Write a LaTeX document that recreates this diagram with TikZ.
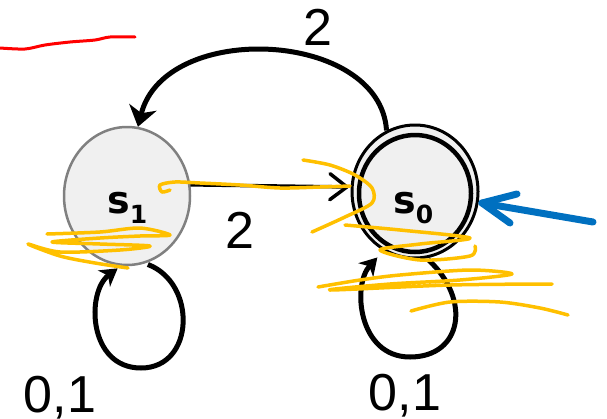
\documentclass[tikz,border=0pt]{standalone}
\usepackage{fontspec}
\setmainfont{Liberation Sans}
\newfontfamily\statefont{DejaVu Sans}
\usetikzlibrary{arrows.meta,shapes.geometric}
\definecolor{stategray}{RGB}{240,240,240}
\definecolor{ringgray}{RGB}{128,128,128}
\definecolor{penyellow}{RGB}{255,192,0}
\definecolor{penblue}{RGB}{0,112,192}
\definecolor{penred}{RGB}{255,0,0}
\tikzset{
  statenode/.style={ellipse,inner sep=0pt,fill=stategray},
  edgelab/.style={anchor=base,inner sep=0pt,font=\fontsize{52}{60}\selectfont},
  statelab/.style={anchor=base west,inner sep=0pt},
  arc edge/.style={line width=5pt,-{Stealth[length=20pt,width=28pt,inset=6pt]}},
  straight edge/.style={line width=3.5pt,-{Straight Barb[length=17pt,width=26pt,round]}},
  loop edge/.style={line width=5pt,-{Stealth[length=17pt,width=20pt,inset=5pt]}},
  yellow pen/.style={penyellow,line width=3.5pt,line cap=round,line join=round},
  blue pen/.style={penblue,line width=7pt,line cap=round,line join=round},
  red pen/.style={penred,line width=3pt,line cap=round,line join=round},
}
\newcommand{\sname}[1]{{\statefont\bfseries\fontsize{38}{40}\selectfont s}\raisebox{-10pt}{\statefont\bfseries\fontsize{25}{28}\selectfont #1}}
\begin{document}
\begin{tikzpicture}[x=1pt,y=-1pt]
\useasboundingbox (0,0) rectangle (607,418);
% states
\node (s1) [statenode,draw=ringgray,line width=2.5pt,minimum width=126pt,minimum height=138pt] at (127,196) {};
\node (s0) [statenode,draw=black,line width=3pt,minimum width=126pt,minimum height=133pt] at (415,191.5) {};
\node (s0in) [ellipse,inner sep=0pt,draw=black,line width=4.5pt,minimum width=112pt,minimum height=117pt] at (415,193.5) {};
\node (s1lab) [statelab] at (107,213) {\sname{1}};
\node (s0lab) [statelab] at (393,213) {\sname{0}};
% edges
\draw[arc edge] (s0.115) .. controls (380,30) and (165,20) .. (s1.81);
\draw[straight edge,shorten >=2pt] (s1.10) -- (s0.176);
\draw[loop edge,shorten <=3pt,shorten >=4pt] (s1.-75) .. controls (197,283) and (195,368) .. (141,368) .. controls (88,368) and (86,292) .. (s1.-95);
\draw[loop edge,shorten <=2pt,shorten >=9pt] (s0.-80) .. controls (472,300) and (462,357) .. (410,357) .. controls (358,357) and (352,285) .. (s0.-118);
% labels
\node (l20) [edgelab] at (318,45) {2};
\node (l10) [edgelab] at (240,248) {2};
\node (l11) [edgelab] at (60,412) {0,1};
\node (l00) [edgelab] at (405,410) {0,1};
% red stroke
\draw[red pen] plot[smooth] coordinates {(0,48) (25,49) (45,45) (70,42) (95,40) (110,37) (135,37)};
% blue arrow
\coordinate (bstart) at (593,222);
\coordinate (btip) at (482,203);
\draw[blue pen] (bstart) -- (btip);
\draw[blue pen] (517,194) -- (btip) -- (510,223);
% yellow scribbles
\draw[yellow pen] plot[smooth] coordinates {(170,190) (162,192) (160,185) (175,182) (200,183) (240,185) (280,188) (320,187) (350,186)};
\draw[yellow pen] plot[smooth] coordinates {(303,160) (330,165) (355,175) (372,188) (372,203) (345,217) (312,232)};
\draw[yellow pen] plot[smooth] coordinates {(47,234) (100,232) (140,228) (170,235) (140,236) (100,238) (52,242) (100,244) (150,246) (120,250) (60,252) (28,244) (60,256) (95,263) (128,268)};
\draw[yellow pen] plot[smooth] coordinates {(345,225) (400,230) (470,238) (420,244) (380,250) (420,260) (470,256) (475,246)};
\draw[yellow pen] plot[smooth] coordinates {(318,287) (360,280) (400,275) (470,270) (512,274) (460,280) (390,284) (330,290) (450,285) (552,284)};
\draw[yellow pen] plot[smooth] coordinates {(411,311) (450,302) (500,302) (540,308) (568,315)};
\end{tikzpicture}
\end{document}
